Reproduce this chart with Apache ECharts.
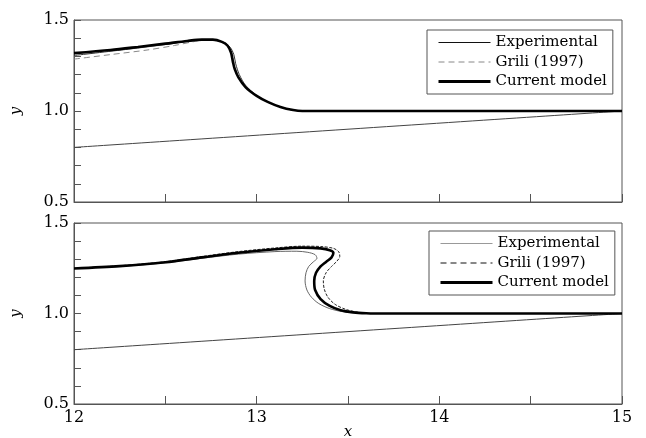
<!DOCTYPE html>
<html>
<head>
<meta charset="utf-8">
<script src="https://cdn.jsdelivr.net/npm/echarts@6/dist/echarts.min.js"></script>
<style>html,body{margin:0;padding:0;background:#fff}#c{width:646px;height:438px}</style>
</head>
<body>
<div id="c"></div>
<script>
// ---- data ----
var xTicks = [12, 13, 14, 15];
var yTicks = [0.5, 1.0, 1.5];
var seriesNames = ['Experimental', 'Grili (1997)', 'Current model'];
var beach = [[12, 0.8], [15, 1.0]];

var topExperimental = [[12,1.305],[12.3,1.34],[12.5,1.365],[12.65,1.385],[12.75,1.391],[12.82,1.377],[12.855,1.35],[12.875,1.31],[12.885,1.26],[12.905,1.2],[12.94,1.14],[13.0,1.085],[13.06,1.05],[13.13,1.022],[13.2,1.004],[13.26,1.0],[15,1.0]];
var topGrili = [[12,1.285],[12.2,1.31],[12.4,1.335],[12.55,1.36],[12.65,1.38],[12.72,1.39],[12.78,1.386],[12.83,1.37],[12.855,1.34],[12.87,1.29],[12.885,1.23],[12.915,1.17],[12.96,1.12],[13.0,1.085],[13.06,1.05],[13.13,1.022],[13.2,1.004],[13.26,1.0],[15,1.0]];
var topModel = [[12,1.318],[12.2,1.335],[12.35,1.352],[12.5,1.37],[12.62,1.385],[12.7,1.392],[12.76,1.392],[12.81,1.38],[12.84,1.36],[12.86,1.32],[12.87,1.27],[12.88,1.23],[12.9,1.185],[12.94,1.13],[13.0,1.083],[13.06,1.05],[13.13,1.022],[13.2,1.005],[13.25,1.0],[15,1.0]];

var botExperimental = [[12,1.249],[12.25,1.26],[12.5,1.28],[12.7,1.305],[12.9,1.328],[13.1,1.342],[13.22,1.344],[13.28,1.338],[13.32,1.325],[13.33,1.305],[13.31,1.285],[13.285,1.26],[13.27,1.225],[13.265,1.18],[13.275,1.13],[13.3,1.09],[13.34,1.055],[13.4,1.027],[13.47,1.01],[13.55,1.002],[13.62,1.0],[15,1.0]];
var botGrili = [[12,1.25],[12.25,1.264],[12.5,1.286],[12.7,1.315],[12.9,1.342],[13.1,1.362],[13.25,1.372],[13.35,1.37],[13.42,1.36],[13.45,1.34],[13.455,1.315],[13.44,1.29],[13.41,1.26],[13.38,1.225],[13.365,1.18],[13.37,1.135],[13.39,1.09],[13.43,1.05],[13.49,1.022],[13.56,1.006],[13.63,1.0],[15,1.0]];
var botModel = [[12,1.249],[12.25,1.262],[12.5,1.283],[12.7,1.31],[12.9,1.336],[13.1,1.355],[13.25,1.364],[13.35,1.36],[13.4,1.35],[13.42,1.335],[13.41,1.31],[13.38,1.285],[13.35,1.26],[13.325,1.225],[13.315,1.18],[13.32,1.13],[13.35,1.08],[13.4,1.042],[13.46,1.018],[13.53,1.006],[13.6,1.001],[13.65,1.0],[15,1.0]];

// ---- chart ----
var FONT = 'DejaVu Serif';
var frame = '#555';
function makeX(i, labels) {
  return {
    type: 'value', gridIndex: i, min: 12, max: 15, interval: 0.5,
    name: labels ? 'x' : '', nameLocation: 'middle', nameGap: 21, nameMoveOverlap: false,
    nameTextStyle: {fontFamily: FONT, fontStyle: 'italic', fontSize: 15, color: '#000'},
    axisLine: {show: true, lineStyle: {color: frame, width: 1}},
    axisTick: {show: true, inside: true, length: 8, lineStyle: {color: frame}},
    axisLabel: {show: labels, margin: 6, fontFamily: FONT, fontSize: 16, color: '#000',
      formatter: function (v) { return xTicks.indexOf(v) >= 0 ? String(v) : ''; }},
    splitLine: {show: false}
  };
}
function makeY(i) {
  return {
    type: 'value', gridIndex: i, min: 0.5, max: 1.5, interval: 0.1,
    name: 'y', nameLocation: 'middle', nameGap: 50, nameRotate: 90, nameMoveOverlap: false,
    nameTextStyle: {fontFamily: FONT, fontStyle: 'italic', fontSize: 15, color: '#000'},
    axisLine: {show: true, lineStyle: {color: frame, width: 1}},
    axisTick: {show: true, inside: true, length: 7, lineStyle: {color: frame}},
    axisLabel: {margin: 5, fontFamily: FONT, fontSize: 16, color: '#000',
      formatter: function (v) {
        for (var k = 0; k < yTicks.length; k++) if (Math.abs(v - yTicks[k]) < 1e-6) return yTicks[k].toFixed(1);
        return '';
      }},
    splitLine: {show: false}
  };
}
function makeLine(name, i, data, color, width, type) {
  return {name: name, type: 'line', xAxisIndex: i, yAxisIndex: i, data: data,
    symbol: 'none', showSymbol: false, smooth: 0.3, silent: true,
    lineStyle: {color: color, width: width, type: type}, itemStyle: {color: color}};
}
function makeLegend(left, top, styles) {
  return {
    show: true, orient: 'vertical', left: left, top: top, selectedMode: false,
    itemWidth: 52, itemHeight: 14, itemGap: 4.5, padding: [5, 6, 5, 10],
    borderColor: frame, borderWidth: 1, backgroundColor: '#fff',
    textStyle: {fontFamily: FONT, fontSize: 15, color: '#000'},
    data: seriesNames.map(function (n, k) {
      return {name: n, lineStyle: styles[k],
        itemStyle: {color: 'rgba(0,0,0,0)', borderColor: 'rgba(0,0,0,0)', borderWidth: 0, opacity: 0}};
    })
  };
}
var chart = echarts.init(document.getElementById('c'), null, {renderer: 'canvas'});
chart.setOption({
  animation: false,
  backgroundColor: '#fff',
  grid: [
    {left: 74, right: 24, top: 20, height: 182, show: true, borderColor: frame, borderWidth: 1, outerBoundsMode: 'none', containLabel: false},
    {left: 74, right: 24, top: 223, height: 181, show: true, borderColor: frame, borderWidth: 1, outerBoundsMode: 'none', containLabel: false}
  ],
  xAxis: [makeX(0, false), makeX(1, true)],
  yAxis: [makeY(0), makeY(1)],
  legend: [
    makeLegend(427, 30, [
      {color: '#111', width: 1, type: 'solid'},
      {color: '#888', width: 1, type: [6, 4]},
      {color: '#000', width: 3, type: 'solid'}]),
    makeLegend(429, 231, [
      {color: '#999', width: 1.2, type: 'solid'},
      {color: '#111', width: 1, type: [6, 4]},
      {color: '#000', width: 3, type: 'solid'}])
  ],
  series: [
    makeLine('beach', 0, beach, '#444', 1, 'solid'),
    makeLine('Experimental', 0, topExperimental, '#333', 1, 'solid'),
    makeLine('Grili (1997)', 0, topGrili, '#888', 1, [6, 4]),
    makeLine('Current model', 0, topModel, '#000', 2.6, 'solid'),
    makeLine('beach', 1, beach, '#444', 1, 'solid'),
    makeLine('Experimental', 1, botExperimental, '#666', 1, 'solid'),
    makeLine('Grili (1997)', 1, botGrili, '#222', 1, [3, 1.5]),
    makeLine('Current model', 1, botModel, '#000', 2.6, 'solid')
  ]
});
</script>
</body>
</html>
